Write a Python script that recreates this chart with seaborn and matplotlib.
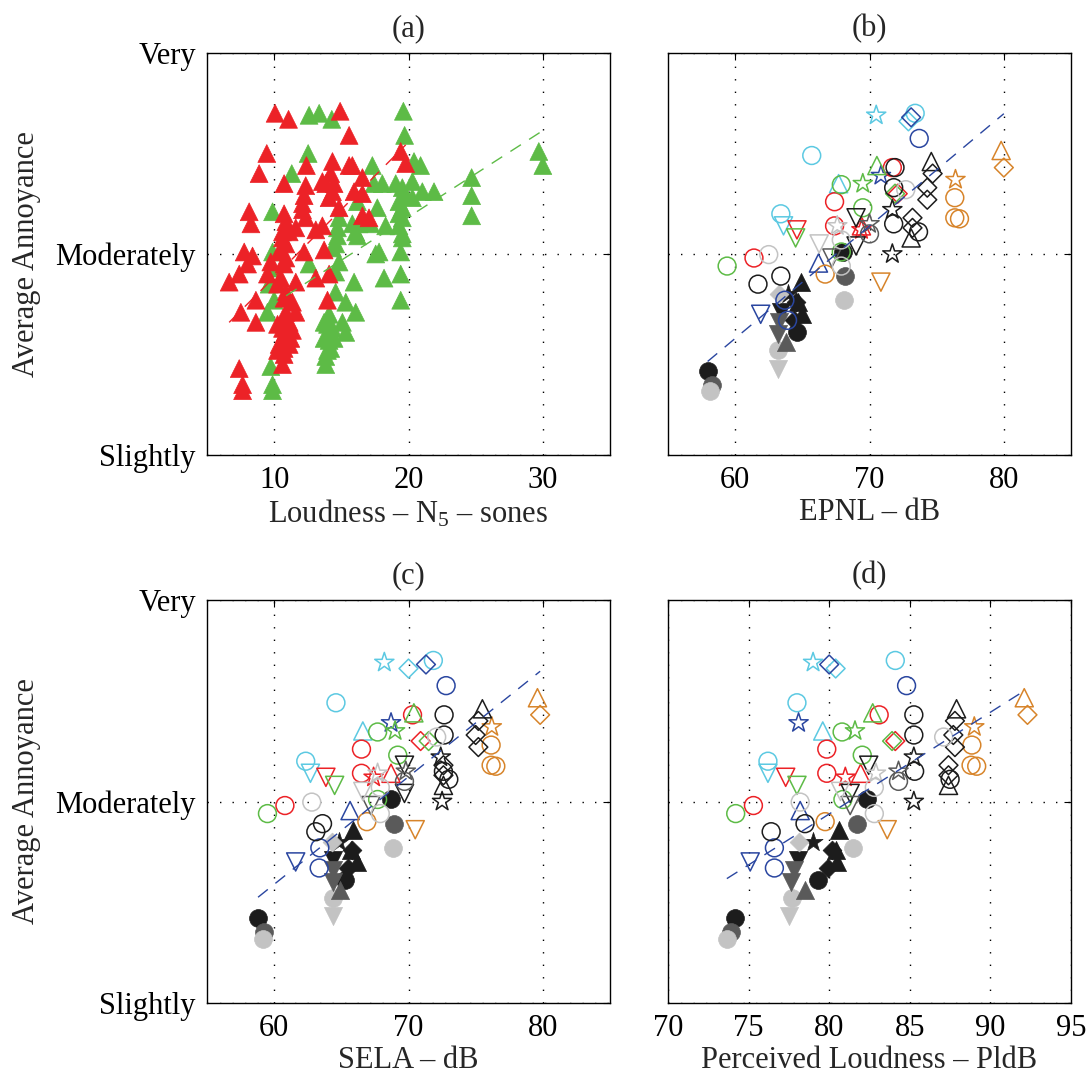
import numpy as np
import pandas as pd
import matplotlib
matplotlib.use('Agg')
import matplotlib.pyplot as plt
import seaborn as sns

# --- panel (a): loudness N5 (sones) vs annoyance, two aircraft groups ---
loud_red = [10.07, 11.07, 14.91, 15.58, 9.45, 8.88, 10.74, 8.14, 8.27, 12.40,
            14.34, 15.58, 15.82, 16.57, 19.42, 19.79, 14.21, 13.84, 13.59, 14.46,
            12.35, 16.57, 15.95, 12.23, 12.11, 12.11, 12.35, 14.83, 14.09, 14.34,
            10.74, 10.87, 10.62, 11.12, 11.61, 13.10, 13.59, 16.57, 17.06, 10.62,
            10.87, 10.37, 10.87, 10.74, 12.23, 13.72, 7.77, 8.39, 8.02, 9.75,
            9.50, 7.40, 6.65, 10.87, 11.61, 13.10, 14.09, 13.97, 8.64, 7.52,
            8.64, 10.74, 11.36, 10.87, 11.61, 10.62, 10.62, 10.74, 10.74, 10.74,
            10.74, 10.62, 11.12, 11.36, 7.40, 7.65, 7.65, 10.25, 11.24, 11.12,
            10.37, 10.25, 10.50, 10.25]
annoy_red = [2.70, 2.67, 2.71, 2.59, 2.50, 2.40, 2.35, 2.21, 2.15, 2.44,
             2.46, 2.44, 2.44, 2.38, 2.51, 2.45, 2.40, 2.35, 2.36, 2.35,
             2.34, 2.30, 2.31, 2.29, 2.25, 2.22, 2.18, 2.23, 2.28, 2.31,
             2.20, 2.16, 2.11, 2.11, 2.13, 2.12, 2.14, 2.19, 2.18, 2.08,
             2.05, 2.01, 1.98, 1.95, 2.01, 2.02, 2.01, 1.99, 1.95, 1.96,
             1.90, 1.90, 1.86, 1.81, 1.86, 1.88, 1.90, 1.77, 1.77, 1.71,
             1.66, 1.78, 1.76, 1.71, 1.71, 1.66, 1.63, 1.60, 1.57, 1.53,
             1.50, 1.45, 1.66, 1.62, 1.43, 1.35, 1.32, 1.65, 1.58, 1.55,
             1.55, 1.52, 1.88, 1.85]
loud_green = [12.60, 13.35, 14.29, 19.62, 19.71, 12.53, 11.31, 17.31, 20.41, 20.90,
              9.88, 17.43, 18.05, 19.05, 19.54, 20.29, 21.03, 21.90, 19.67, 20.29,
              19.29, 16.20, 19.54, 19.54, 19.29, 19.54, 19.54, 17.68, 18.30, 17.19,
              16.32, 16.07, 16.20, 14.83, 14.71, 14.71, 14.58, 14.34, 17.81, 19.42,
              17.56, 24.70, 24.70, 24.70, 29.70, 30.00, 9.88, 9.88, 12.60, 14.83,
              14.58, 9.75, 9.63, 15.95, 18.18, 19.42, 19.42, 10.00, 14.58, 15.33,
              16.07, 9.50, 14.09, 13.97, 14.34, 13.97, 14.09, 14.21, 13.97, 15.08,
              15.33, 13.84, 9.75, 9.88, 9.88, 13.72, 13.72, 14.46, 13.84, 15.82,
              19.29]
annoy_green = [2.69, 2.70, 2.67, 2.71, 2.59, 2.50, 2.40, 2.44, 2.46, 2.44,
               2.21, 2.35, 2.35, 2.35, 2.33, 2.36, 2.31, 2.31, 2.29, 2.28,
               2.26, 2.26, 2.23, 2.18, 2.14, 2.10, 2.08, 2.23, 2.14, 2.15,
               2.15, 2.11, 2.09, 2.18, 2.13, 2.09, 2.05, 2.03, 2.01, 2.01,
               2.00, 2.38, 2.29, 2.19, 2.51, 2.44, 2.01, 1.93, 1.95, 1.96,
               1.91, 1.86, 1.85, 1.86, 1.88, 1.90, 1.77, 1.77, 1.81, 1.76,
               1.71, 1.71, 1.70, 1.65, 1.63, 1.60, 1.57, 1.53, 1.52, 1.66,
               1.61, 1.45, 1.44, 1.35, 1.32, 1.66, 1.58, 1.58, 1.49, 2.15,
               2.20]

# --- panels (b)-(d): same sounds, three metrics ---
source = ['cyan-star', 'cyan-diamond', 'cyan-circle', 'cyan-circle', 'cyan-circle',
          'cyan-tri-up', 'cyan-tri-down',
          'blue-circle', 'blue-diamond', 'blue-star', 'blue-tri-up', 'blue-circle',
          'blue-circle', 'blue-tri-down',
          'red-circle', 'red-circle', 'red-circle', 'red-circle', 'red-diamond',
          'red-tri-down', 'red-star', 'red-tri-up',
          'green-tri-up', 'green-star', 'green-circle', 'green-circle', 'green-circle',
          'green-circle', 'green-tri-down', 'green-diamond',
          'orange-tri-up', 'orange-diamond', 'orange-star', 'orange-circle',
          'orange-circle', 'orange-circle', 'orange-circle', 'orange-tri-down',
          'black-tri-up', 'black-tri-up', 'black-diamond', 'black-diamond',
          'black-diamond', 'black-diamond', 'black-diamond', 'black-circle',
          'black-circle', 'black-circle', 'black-circle', 'black-circle',
          'black-circle', 'black-star', 'black-star', 'black-tri-down',
          'black-tri-down',
          'dgrey-tri-down', 'dgrey-star', 'dgrey-circle',
          'lgrey-circle', 'lgrey-circle', 'lgrey-circle', 'lgrey-circle',
          'lgrey-tri-down', 'lgrey-star',
          'black-circle-f', 'dgrey-circle-f', 'lgrey-circle-f', 'dgrey-circle-f',
          'lgrey-circle-f', 'black-circle-f', 'black-tri-up-f', 'black-tri-up-f',
          'black-tri-up-f', 'black-diamond-f', 'black-diamond-f', 'black-star-f',
          'black-circle-f', 'black-tri-down-f', 'dgrey-tri-down-f', 'dgrey-tri-down-f',
          'dgrey-tri-up-f', 'lgrey-circle-f', 'lgrey-tri-down-f', 'lgrey-diamond-f']
annoy = [2.69, 2.66, 2.70, 2.49, 2.20, 2.35, 2.14,
         2.575, 2.68, 2.39, 1.955, 1.77, 1.67, 1.70,
         2.43, 2.26, 2.14, 1.98, 2.30, 2.12, 2.12, 2.14,
         2.44, 2.35, 2.345, 2.23, 2.01, 1.94, 2.08, 2.30,
         2.515, 2.43, 2.37, 2.28, 2.18, 2.175, 1.90, 1.86,
         2.46, 2.08, 2.40, 2.33, 2.27, 2.18, 2.13, 2.43,
         2.33, 2.15, 2.11, 1.85, 1.89, 2.22, 2.00, 2.18,
         2.04,
         1.98, 2.15, 2.10,
         2.32, 1.997, 2.07, 1.94, 2.05, 2.14,
         1.42, 1.35, 1.32, 1.89, 1.77, 2.01, 1.86, 1.76,
         1.70, 1.76, 1.67, 1.80, 1.61, 1.71, 1.60, 1.66,
         1.56, 1.52, 1.43, 1.80]
epnl = [70.5, 72.9, 73.4, 65.7, 63.4, 67.7, 63.6,
        73.7, 73.1, 70.85, 66.2, 63.7, 63.9, 61.9,
        71.7, 67.4, 67.4, 61.4, 72.1, 64.6, 69.4, 69.4,
        70.55, 69.5, 67.9, 69.5, 67.9, 59.4, 64.5, 71.9,
        79.8, 80.0, 76.4, 76.35, 76.35, 76.7, 66.7, 70.85,
        74.6, 73.1, 74.7, 74.3, 74.3, 73.2, 73.2, 71.9,
        71.8, 71.8, 73.65, 61.7, 63.4, 71.7, 71.7, 69.0,
        69.0,
        67.2, 70.0, 70.0,
        72.7, 62.5, 67.9, 67.9, 66.25, 67.6,
        57.95, 58.25, 58.15, 68.2, 68.1, 68.0, 64.9, 64.7,
        65.0, 64.5, 64.4, 63.9, 64.6, 63.4, 63.2, 63.3,
        63.8, 63.2, 63.2, 63.3]
sela = [68.2, 70.0, 71.85, 64.6, 62.35, 66.6, 62.7,
        72.8, 71.3, 68.7, 65.65, 63.4, 63.35, 61.6,
        70.3, 66.5, 66.5, 60.8, 70.9, 63.85, 67.4, 68.7,
        70.4, 69.0, 67.7, 69.2, 67.7, 59.5, 64.5, 71.5,
        79.6, 79.8, 76.2, 76.15, 76.15, 76.5, 66.9, 70.5,
        75.5, 72.6, 75.2, 75.0, 75.2, 72.6, 72.6, 72.65,
        72.65, 72.6, 73.0, 63.1, 63.6, 72.4, 72.5, 69.7,
        69.7,
        67.2, 69.8, 69.7,
        72.1, 62.8, 67.9, 67.9, 66.6, 67.7,
        58.8, 59.25, 59.15, 68.9, 68.85, 68.7, 65.9, 65.7,
        66.2, 65.8, 65.5, 64.8, 65.3, 64.35, 64.35, 64.4,
        64.9, 64.4, 64.35, 64.3]
pldb = [79.0, 80.4, 84.1, 78.0, 76.2, 79.6, 76.2,
        84.8, 80.0, 78.1, 78.2, 76.6, 76.6, 75.1,
        83.1, 79.85, 79.85, 75.3, 84.1, 77.3, 81.0, 81.95,
        82.7, 81.6, 80.8, 82.05, 80.85, 74.2, 78.0, 83.9,
        92.1, 92.3, 89.0, 88.85, 88.8, 89.15, 79.75, 83.6,
        87.9, 87.4, 87.8, 87.7, 87.8, 87.4, 87.4, 85.25,
        85.25, 85.3, 87.5, 76.4, 78.5, 85.25, 85.25, 82.45,
        81.3,
        81.3, 84.3, 84.3,
        87.1, 78.2, 82.8, 82.8, 80.7, 82.9,
        74.15, 73.9, 73.65, 81.7, 81.5, 82.35, 80.6, 80.4,
        80.5, 80.2, 79.9, 79.0, 79.3, 78.05, 77.6, 77.8,
        78.5, 77.7, 77.5, 78.1]

# linear fits: (slope, intercept)
fit_a = {'red': (0.0672, 1.213), 'green': (0.0430, 1.324)}
fit_epnl = (0.0559, -1.774)
fit_sela = (0.0534, -1.615)
fit_pldb = (0.0505, -2.102)

# --- styles ---
colours = {'cyan': '#5cc9e2', 'blue': '#2a46a0', 'red': '#ec2227', 'green': '#5dbb46',
           'orange': '#d7842a', 'black': '#1c1c1c', 'dgrey': '#5a5a5a', 'lgrey': '#c3c3c3'}
shapes = {'circle': 'o', 'tri-up': '^', 'tri-down': 'v', 'star': '*', 'diamond': 'D'}
sizes = {'o': 165, '^': 170, 'v': 170, '*': 210, 'D': 92}

sns.set_style('white')
plt.rcParams['font.family'] = ['Liberation Serif', 'DejaVu Serif']
plt.rcParams['mathtext.fontset'] = 'custom'
plt.rcParams['mathtext.rm'] = 'Liberation Serif'
plt.rcParams['mathtext.it'] = 'Liberation Serif:italic'
FS = 22

df_a = pd.concat([
    pd.DataFrame({'loud': loud_green, 'annoy': annoy_green, 'group': 'green'}),
    pd.DataFrame({'loud': loud_red, 'annoy': annoy_red, 'group': 'red'}),
], ignore_index=True)
df = pd.DataFrame({'source': source, 'annoy': annoy, 'EPNL': epnl,
                   'SELA': sela, 'PLdB': pldb})

fig = plt.figure(figsize=(10.91, 10.8), dpi=100)
L, R = 207 / 1091, 668 / 1091
W = 403 / 1091
ax_a = fig.add_axes([L, 1 - 455 / 1080, W, 402 / 1080])
ax_b = fig.add_axes([R, 1 - 455 / 1080, W, 402 / 1080])
ax_c = fig.add_axes([L, 1 - 1003 / 1080, W, 403 / 1080])
ax_d = fig.add_axes([R, 1 - 1003 / 1080, W, 403 / 1080])

dash = (0, (9, 7))

# (a)
sns.scatterplot(data=df_a, x='loud', y='annoy', hue='group',
                palette={'red': colours['red'], 'green': colours['green']},
                marker='^', s=165, edgecolor='face', linewidth=0.5,
                legend=False, ax=ax_a, zorder=3)
for grp, (m, b0) in fit_a.items():
    xs = df_a.loc[df_a.group == grp, 'loud']
    xx = np.array([xs.min(), xs.max()])
    sns.lineplot(x=xx, y=m * xx + b0, color=colours[grp], linestyle=dash,
                 linewidth=1.0, ax=ax_a, zorder=5)


def draw_metric(ax, col, fit):
    for filled in (True, False):
        sub = df[df.source.str.endswith('-f') == filled]
        for src, grp in sub.groupby('source', sort=False):
            parts = src.replace('-f', '').split('-', 1)
            c = colours[parts[0]]
            m = shapes[parts[1]]
            if filled:
                sns.scatterplot(data=grp, x=col, y='annoy', marker=m, s=sizes[m],
                                color=c, edgecolor=c, linewidth=0.5,
                                legend=False, ax=ax, zorder=3)
            else:
                sns.scatterplot(data=grp, x=col, y='annoy', marker=m, s=sizes[m],
                                facecolor='none', edgecolor=c, linewidth=1.1,
                                legend=False, ax=ax, zorder=4)
    xx = np.array([df[col].min(), df[col].max()])
    sns.lineplot(x=xx, y=fit[0] * xx + fit[1], color=colours['blue'],
                 linestyle=dash, linewidth=1.0, ax=ax, zorder=5)


draw_metric(ax_b, 'EPNL', fit_epnl)
draw_metric(ax_c, 'SELA', fit_sela)
draw_metric(ax_d, 'PLdB', fit_pldb)

setup = [
    (ax_a, '(a)', 'Loudness – N$_5$ – sones', (5, 35), [10, 20, 30], True),
    (ax_b, '(b)', 'EPNL – dB', (55, 85), [60, 70, 80], False),
    (ax_c, '(c)', 'SELA – dB', (55, 85), [60, 70, 80], True),
    (ax_d, '(d)', 'Perceived Loudness – PldB', (70, 95), [70, 75, 80, 85, 90, 95], False),
]
for ax, title, xlabel, xlim, xticks, left in setup:
    ax.set_xlim(*xlim)
    ax.set_ylim(1, 3)
    ax.set_xticks(xticks)
    ax.set_yticks([1, 2, 3])
    if left:
        ax.set_yticklabels(['Slightly', 'Moderately', 'Very'])
        ax.set_ylabel('Average Annoyance', fontsize=FS, labelpad=10)
    else:
        ax.set_yticklabels([])
        ax.set_ylabel('')
    ax.set_xlabel(xlabel, fontsize=FS, labelpad=2)
    ax.set_title(title, fontsize=FS, pad=12)
    ax.tick_params(direction='in', length=5, width=0.8, top=True, right=True,
                   labelsize=FS, pad=8, colors='k')
    ax.grid(True, color='k', linestyle=(0, (1, 8)), linewidth=1.0)
    ax.set_axisbelow(True)
    for sp in ax.spines.values():
        sp.set_color('k')
        sp.set_linewidth(1.0)
        sp.set_visible(True)

fig.savefig('out.png', dpi=100)
